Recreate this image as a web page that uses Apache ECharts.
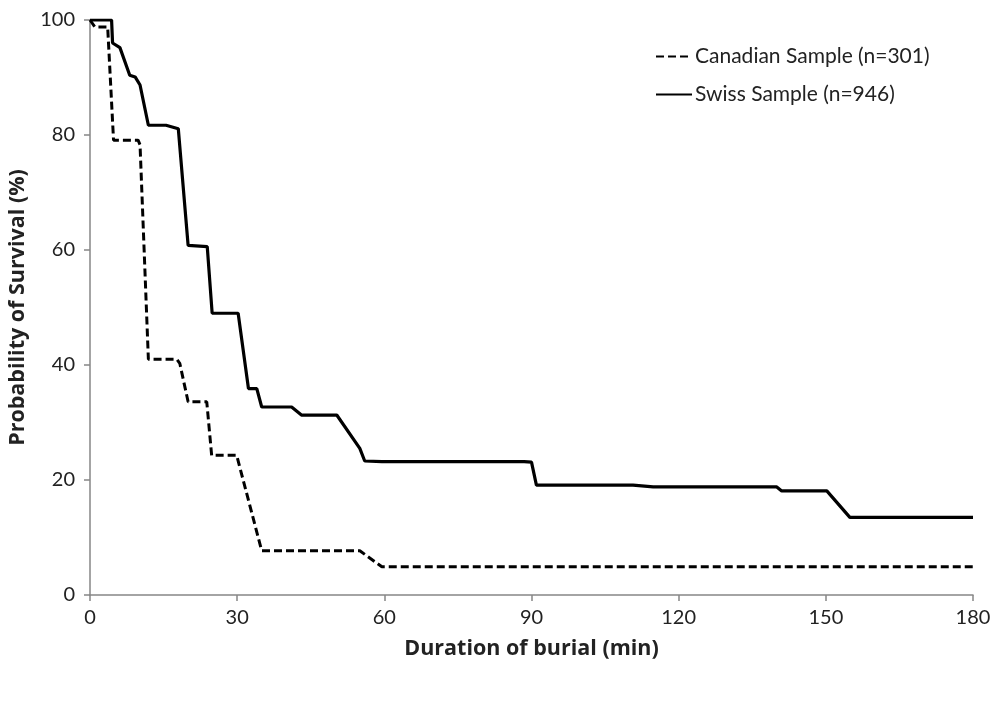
<!DOCTYPE html>
<html>
<head>
<meta charset="utf-8">
<script src="https://cdn.jsdelivr.net/npm/echarts@6/dist/echarts.min.js"></script>
<style>
html,body{margin:0;padding:0;background:#fff;}
#chart{width:1000px;height:702px;}
</style>
</head>
<body>
<div id="chart"></div>
<script>
// Data (minutes, survival %)
const canadianName = 'Canadian Sample (n=301)';
const swissName = 'Swiss Sample (n=946)';
const canadianData = [
  [0,100],[1.0,98.8],[3.6,98.8],[4.8,79.1],[9.8,79.1],[10.2,78.3],[11.9,41.0],[17.7,41.0],
  [18.3,40.3],[20.0,33.6],[23.8,33.6],[24.8,24.3],[29.9,24.3],[35.0,7.7],[55.0,7.7],
  [59.5,4.9],[180,4.9]
];
const swissData = [
  [0,100],[4.4,100],[4.6,96.0],[6.1,95.2],[8.1,90.4],[9.2,90.1],[10.2,88.7],[11.9,81.7],
  [15.5,81.7],[18.0,81.1],[20.0,60.8],[23.9,60.6],[24.9,49.0],[30.2,49.0],[32.3,35.9],
  [34.0,35.9],[35.0,32.7],[41.1,32.7],[43.1,31.3],[50.3,31.3],[55.0,25.5],[56.0,23.3],
  [59.5,23.2],[88.5,23.2],[90.0,23.1],[91.0,19.1],[110.7,19.1],[114.8,18.8],[140.0,18.8],
  [141.0,18.1],[150.2,18.1],[154.9,13.5],[180,13.5]
];
const xTicks = {min:0, max:180, interval:30};
const yTicks = {min:0, max:100, interval:20};

const chart = echarts.init(document.getElementById('chart'));
const fontFamily = 'Lato, "Open Sans", sans-serif';
const titleFont = '"Open Sans", Lato, sans-serif';
const axisColor = '#868686';
chart.setOption({
  backgroundColor:'#fff',
  animation:false,
  textStyle:{fontFamily:fontFamily},
  grid:{left:90, right:27, top:20, bottom:107, containLabel:false, outerBoundsMode:'none'},
  legend:{
    orient:'vertical', left:650, top:41, itemGap:17,
    itemWidth:36, itemHeight:26,
    itemStyle:{opacity:0},
    textStyle:{fontFamily:fontFamily, fontSize:21, color:'#222', padding:[0,0,0,-2]},
    data:[canadianName, swissName]
  },
  xAxis:{
    type:'value', min:xTicks.min, max:xTicks.max, interval:xTicks.interval,
    name:'Duration of burial (min)', nameLocation:'middle', nameGap:43,
    nameTextStyle:{fontFamily:titleFont, fontSize:21.5, fontWeight:'bold', color:'#222'},
    axisLine:{show:true, lineStyle:{color:axisColor, width:1.5}},
    axisTick:{show:true, length:6, lineStyle:{color:axisColor, width:1.5}},
    axisLabel:{fontSize:20, color:'#222', margin:13},
    splitLine:{show:false}
  },
  yAxis:{
    type:'value', min:yTicks.min, max:yTicks.max, interval:yTicks.interval,
    name:'Probability of Survival (%)', nameLocation:'middle', nameGap:57, nameRotate:90,
    nameTextStyle:{fontFamily:titleFont, fontSize:21.5, fontWeight:'bold', color:'#222'},
    axisLine:{show:true, lineStyle:{color:axisColor, width:1.5}},
    axisTick:{show:true, length:6, lineStyle:{color:axisColor, width:1.5}},
    axisLabel:{fontSize:20, color:'#222', margin:15},
    splitLine:{show:false}
  },
  series:[
    {name:canadianName, type:'line', data:canadianData, symbol:'none',
     lineStyle:{color:'#000', width:3, type:[8,4]}, itemStyle:{color:'#000'}},
    {name:swissName, type:'line', data:swissData, symbol:'none',
     lineStyle:{color:'#000', width:3.2, type:'solid'}, itemStyle:{color:'#000'}}
  ]
});
</script>
</body>
</html>
